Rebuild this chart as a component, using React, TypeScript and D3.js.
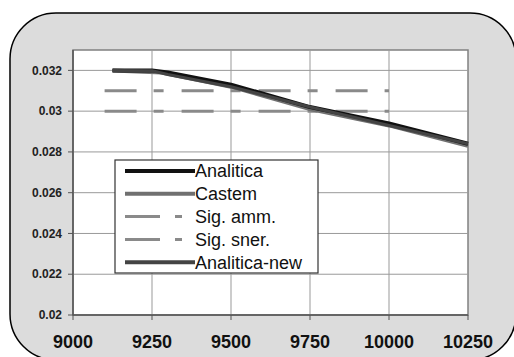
import React from "react";
import * as d3 from "d3";

const xTicks = [9000, 9250, 9500, 9750, 10000, 10250];
const yTicks = [0.02, 0.022, 0.024, 0.026, 0.028, 0.03, 0.032];
const yTickLabels = ["0.02", "0.022", "0.024", "0.026", "0.028", "0.03", "0.032"];

const analiticaX = [9125, 9250, 9300, 9500, 9750, 10000, 10250];
const analiticaY = [0.032, 0.032, 0.0319, 0.0313, 0.0302, 0.0294, 0.0284];
const castemX = [9125, 9280, 9500, 9750, 10000, 10250];
const castemY = [0.032, 0.0319, 0.0312, 0.0301, 0.0293, 0.0283];
const analiticaNewX = [9125, 9250, 9300, 9500, 9750, 10000, 10250];
const analiticaNewY = [0.032, 0.03198, 0.0318, 0.0312, 0.0302, 0.0293, 0.0284];
const sigX = [9100, 10000];
const sigAmmY = [0.031, 0.031];
const sigSnerY = [0.03, 0.03];

const legendNames = ["Analitica", "Castem", "Sig. amm.", "Sig. sner.", "Analitica-new"];

export default function App() {
  const W = 514, H = 357;
  const x = d3.scaleLinear().domain([9000, 10250]).range([73, 468]);
  const y = d3.scaleLinear().domain([0.02, 0.033]).range([315, 50]);
  const line = (xs: number[], ys: number[]) =>
    d3.line<number>().x((_, i) => x(xs[i])).y((d) => y(d))(ys) as string;

  const series = [
    { name: legendNames[2], xs: sigX, ys: sigAmmY, color: "#8a8a8a", w: 3, dash: "32 17 10 18" },
    { name: legendNames[3], xs: sigX, ys: sigSnerY, color: "#8a8a8a", w: 3, dash: "32 17 10 18" },
    { name: legendNames[1], xs: castemX, ys: castemY, color: "#707070", w: 4, dash: "" },
    { name: legendNames[0], xs: analiticaX, ys: analiticaY, color: "#111", w: 4, dash: "" },
    { name: legendNames[4], xs: analiticaNewX, ys: analiticaNewY, color: "#444", w: 3, dash: "" },
  ];
  const legendStyle = [
    { color: "#111", w: 4, dash: "" },
    { color: "#707070", w: 4, dash: "" },
    { color: "#8a8a8a", w: 3, dash: "35 15 7 60" },
    { color: "#8a8a8a", w: 3, dash: "35 15 7 60" },
    { color: "#444", w: 4, dash: "" },
  ];

  return (
    <svg width={W} height={H} style={{ position: "absolute", left: 0, top: 0 }} fontFamily="Arial, 'Liberation Sans', sans-serif">
      <rect x={0} y={0} width={W} height={H} fill="#fff" />
      <rect x={10} y={13} width={506} height={347} rx={46} ry={46} fill="#dcdcdc" stroke="#000" strokeWidth={1.5} />
      <rect x={73} y={50} width={395} height={265} fill="#fff" stroke="#808080" strokeWidth={1.5} />
      {yTicks.map((t) => (
        <line key={"gy" + t} x1={73} x2={468} y1={y(t)} y2={y(t)} stroke="#999" strokeWidth={1} />
      ))}
      {xTicks.slice(1, -1).map((t) => (
        <line key={"gx" + t} x1={x(t)} x2={x(t)} y1={50} y2={315} stroke="#999" strokeWidth={1} />
      ))}
      <line x1={73} x2={468} y1={315} y2={315} stroke="#555" strokeWidth={1.5} />
      <line x1={73} x2={73} y1={50} y2={315} stroke="#555" strokeWidth={1.5} />
      {yTicks.map((t) => (
        <line key={"ty" + t} x1={68} x2={73} y1={y(t)} y2={y(t)} stroke="#555" />
      ))}
      {xTicks.map((t) => (
        <line key={"tx" + t} x1={x(t)} x2={x(t)} y1={315} y2={320} stroke="#555" />
      ))}
      {yTicks.map((t, i) => (
        <text key={"ly" + t} x={62} y={y(t)} dy="0.35em" textAnchor="end" fontSize={12} fontWeight="bold" fill="#222">
          {yTickLabels[i]}
        </text>
      ))}
      {xTicks.map((t) => (
        <text key={"lx" + t} x={x(t)} y={348} textAnchor="middle" fontSize={18} fontWeight="bold" fill="#111">
          {t}
        </text>
      ))}
      {series.map((s) => (
        <path key={s.name} d={line(s.xs, s.ys)} fill="none" stroke={s.color} strokeWidth={s.w} strokeDasharray={s.dash} strokeLinejoin="round" />
      ))}
      <rect x={115} y={160} width={203} height={113} fill="#fff" stroke="#333" strokeWidth={1.2} />
      {legendNames.map((n, i) => {
        const ly = 171 + i * 22.8;
        const st = legendStyle[i];
        return (
          <g key={"lg" + n}>
            <line x1={125} x2={st.dash ? 182 : 195} y1={ly} y2={ly} stroke={st.color} strokeWidth={st.w} strokeDasharray={st.dash} />
            <text x={195} y={ly} dy="0.36em" fontSize={18} fill="#111">{n}</text>
          </g>
        );
      })}
    </svg>
  );
}
